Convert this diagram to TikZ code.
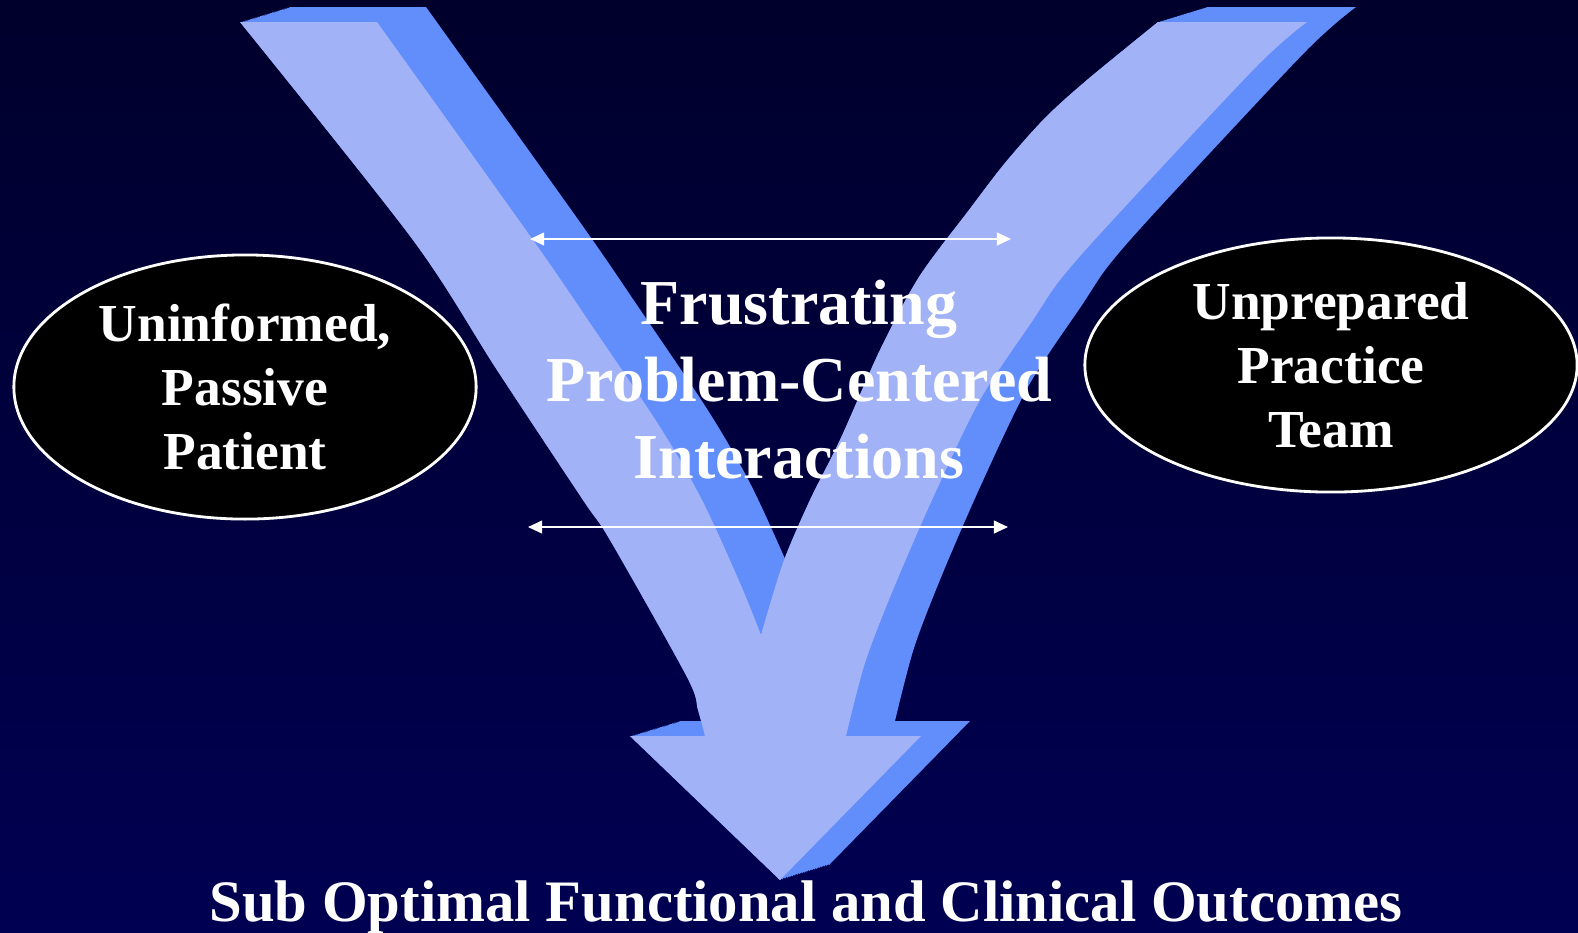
\documentclass[tikz,border=0pt]{standalone}
\usepackage{fontspec}
\setmainfont{Liberation Serif}
\usetikzlibrary{shapes.geometric, arrows.meta}

\definecolor{navytop}{RGB}{0,0,44}
\definecolor{navybottom}{RGB}{0,0,82}
\definecolor{vfront}{RGB}{162,178,246}
\definecolor{vside}{RGB}{98,142,252}

\tikzstyle{actor} = [ellipse, draw=white, line width=0.8pt, fill=black, text=white, align=center, inner sep=0pt, font=\fontsize{15.2}{18.2}\selectfont\bfseries]
\tikzstyle{centre} = [text=white, align=center, font=\fontsize{18.2}{21.9}\selectfont\bfseries]
\tikzstyle{outcome} = [text=white, anchor=base, font=\fontsize{16.7}{20}\selectfont\bfseries]
\tikzstyle{link} = [white, line width=0.6pt, {Triangle[length=4pt,width=3.6pt]}-{Triangle[length=4pt,width=3.6pt]}]

% outline of the V arrow, in pixel units (y pointing down)
\newcommand{\vpath}{(240,22) -- (377,22)
  -- plot[smooth, tension=0.5] coordinates {(377,22) (533,240) (590,323) (660,427) (702,500) (740,583) (761,635)}
  -- plot[smooth, tension=0.5] coordinates {(761,635) (783,563) (810,500) (840,440) (880,350) (919,277) (969,210) (1005,163) (1045,118) (1087,80) (1158,22)}
  -- (1307,22)
  -- plot[smooth, tension=0.5] coordinates {(1307,22) (1256,67) (1110,223) (1060,280) (1033,320) (980,400) (932,500) (893,590) (865,663) (846,736)}
  -- (921,736) -- (780,880) -- (630,736) -- (705,736)
  -- plot[smooth, tension=0.5] coordinates {(705,736) (698,710) (687,677) (610,540) (583,500) (497,370) (413,240) (240,22)}
  -- cycle}

\begin{document}
\begin{tikzpicture}[x=0.01cm, y=-0.01cm]

\shade[top color=navytop, bottom color=navybottom] (0,0) rectangle (1578,932);
\useasboundingbox (0,0) rectangle (1578,932);

% extruded side, then the front face
\foreach \t in {0,...,20}
  \fill[vside, shift={(49*\t/20,-15*\t/20)}] \vpath;
\fill[vfront] \vpath;

\node[actor, minimum width=4.62cm, minimum height=2.64cm] (patient) at (245,387) {Uninformed,\\ Passive\\ Patient};
\node[actor, minimum width=4.92cm, minimum height=2.54cm] (team) at (1331,365) {Unprepared\\ Practice\\ Team};

\node[centre] (interact) at (799,380) {Frustrating\\ Problem-Centered\\ Interactions};

\coordinate (topL) at (530,239);
\coordinate (topR) at (1011,239);
\coordinate (botL) at (528,527);
\coordinate (botR) at (1008,527);
\draw[link] (topL) -- (topR);
\draw[link] (botL) -- (botR);

\node[outcome] (outcome) at (806,921) {Sub Optimal Functional and Clinical Outcomes};

\end{tikzpicture}
\end{document}
